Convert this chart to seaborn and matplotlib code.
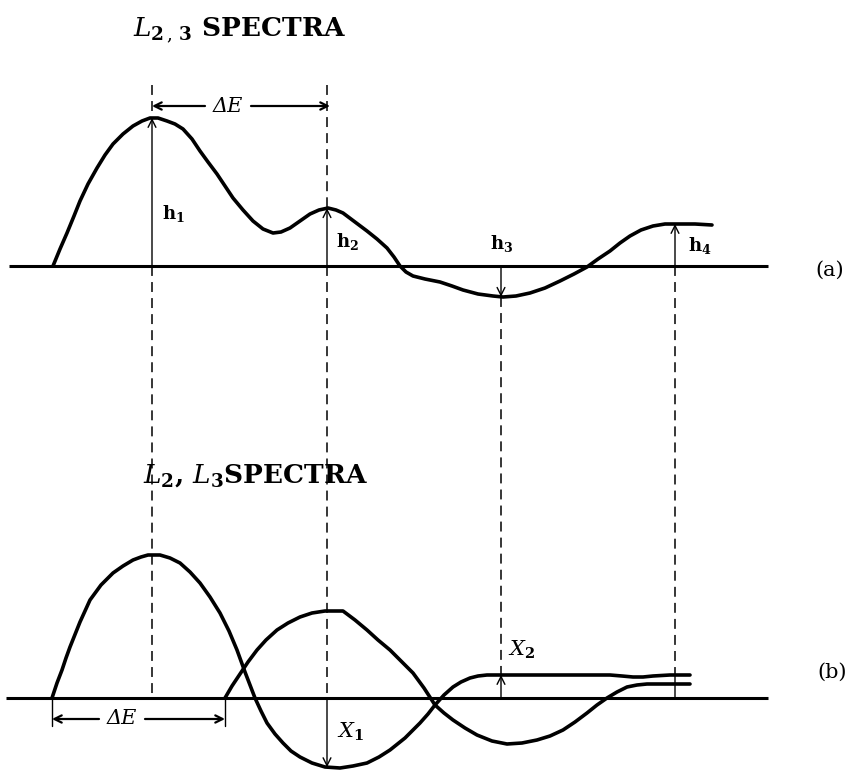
import numpy as np
import pandas as pd
import matplotlib
matplotlib.use("Agg")
import matplotlib.pyplot as plt
import seaborn as sns

sns.set_style("white")
plt.rcParams["font.family"] = ["DejaVu Serif"]
plt.rcParams["mathtext.fontset"] = "dejavuserif"
plt.rcParams["text.color"] = "black"

# ---- spectra (energy axis, signal above the zero line) ----
# (a) combined L2,3 spectrum
energy_a = [53, 60, 67, 74, 80, 88, 97, 105, 113, 123, 133, 142, 150, 158, 167,
            175, 183, 192, 200, 208, 217, 225, 233, 243, 253, 263, 273, 281,
            290, 300, 310, 319, 328, 336, 343, 355, 367, 377, 387, 394, 400,
            406, 413, 425, 440, 452, 463, 478, 493, 503, 516, 530, 545, 560,
            574, 587, 598, 610, 620, 630, 641, 653, 665, 677, 695, 712]
signal_a = [0, 17, 33, 50, 65, 82, 98, 111, 122, 132, 140, 145, 148, 148, 145,
            142, 137, 127, 115, 104, 92, 80, 68, 56, 45, 37, 33, 34,
            38, 45, 52, 56, 58, 56, 53, 44, 35, 27, 18, 9, 0,
            -6, -10, -13, -16, -20, -24, -28, -30, -31, -30, -27, -22, -15,
            -8, -1, 7, 15, 23, 30, 36, 40, 42, 42, 42, 41]

# (b) separate L2 and L3 components
energy_b1 = [52, 57, 62, 66, 70, 80, 90, 101, 113, 123, 133, 141, 148, 160,
             170, 180, 190, 200, 210, 220, 229, 237, 245, 250, 255, 261, 267,
             275, 283, 291, 300, 312, 325, 340, 353, 367, 379, 390, 405, 420,
             428, 435, 444, 453, 461, 470, 478, 487, 510, 560, 610, 622, 633,
             643, 653, 670, 690]
signal_b1 = [0, 15, 28, 40, 51, 76, 98, 113, 125, 132, 138, 141, 143, 143,
             140, 135, 126, 115, 101, 85, 67, 48, 26, 13, 0, -13, -25,
             -36, -45, -53, -59, -65, -69, -70, -68, -65, -59, -52, -40, -25,
             -16, -7, 3, 11, 16, 20, 22, 23, 23, 23, 23, 22, 21,
             21, 22, 23, 23]
energy_b2 = [225, 232, 240, 248, 257, 266, 277, 288, 300, 312, 325, 343, 355,
             367, 378, 390, 401, 413, 424, 435, 444, 453, 465, 477, 492, 507,
             522, 537, 550, 563, 575, 587, 597, 607, 617, 627, 637, 647, 670,
             690]
signal_b2 = [0, 12, 24, 36, 48, 58, 68, 75, 81, 85, 87, 87, 78,
             68, 58, 48, 37, 25, 10, -7, -15, -22, -30, -37, -43, -46,
             -45, -42, -38, -32, -24, -15, -7, 0, 6, 11, 13, 14, 14,
             14]

# energies where the heights are measured
marker_energy = [152, 327, 501, 675]
height_labels_a = [r"$\mathbf{h}_{\mathbf{1}}$", r"$\mathbf{h}_{\mathbf{2}}$",
                   r"$\mathbf{h}_{\mathbf{3}}$", r"$\mathbf{h}_{\mathbf{4}}$"]
height_labels_b = [r"$X_{\mathbf{1}}$", r"$X_{\mathbf{2}}$"]
title_a = r"$L_{\mathbf{2}\,,\,\mathbf{3}}$ SPECTRA"
title_b = r"$L_{\mathbf{2}}$, $L_{\mathbf{3}}$SPECTRA"
panel_tags = ["(a)", "(b)"]
delta_label = "ΔE"

# ---- layout (page coordinates, y downwards) ----
W, H = 846, 770
BASE_A, BASE_B = 266, 698
TOP_DASH = 85

fig = plt.figure(figsize=(W / 100, H / 100), dpi=100)
ax = fig.add_axes([0, 0, 1, 1])
ax.set_xlim(0, W)
ax.set_ylim(H, 0)
ax.axis("off")

INK = "black"
CURVE_LW = 2.6
AXIS_LW = 2.2
THIN_LW = 1.0
DASH_LW = 1.1
DASHES = (6.5, 4.0)


def draw_curve(energy, signal, base):
    df = pd.DataFrame({"E": energy, "y": base - np.asarray(signal, float)})
    sns.lineplot(data=df, x="E", y="y", ax=ax, color=INK, lw=CURVE_LW,
                 sort=False, estimator=None, solid_capstyle="round",
                 solid_joinstyle="round")


def arrow(x, y_from, y_to, head=True):
    ax.annotate("", xy=(x, y_to), xytext=(x, y_from),
                arrowprops=dict(arrowstyle="->" if head else "-", lw=THIN_LW,
                                color=INK, shrinkA=0, shrinkB=0,
                                mutation_scale=14))


def dashed(x, y0, y1):
    ax.plot([x, x], [y0, y1], color=INK, lw=DASH_LW, dashes=DASHES)


# zero lines
ax.plot([9, 768], [BASE_A, BASE_A], color=INK, lw=AXIS_LW, solid_capstyle="butt")
ax.plot([6, 768], [BASE_B, BASE_B], color=INK, lw=AXIS_LW, solid_capstyle="butt")

draw_curve(energy_a, signal_a, BASE_A)
draw_curve(energy_b1, signal_b1, BASE_B)
draw_curve(energy_b2, signal_b2, BASE_B)

# curve levels at the measuring energies
ya = [BASE_A - np.interp(e, energy_a, signal_a) for e in marker_energy]
yb1 = [BASE_B - np.interp(e, energy_b1, signal_b1) for e in marker_energy]

# h1, h2: peaks; dashed guides continue down into (b)
for i in (0, 1):
    e = marker_energy[i]
    dashed(e, TOP_DASH, ya[i])
    arrow(e, BASE_A, ya[i])
    dashed(e, BASE_A, BASE_B)
# X1: depth of the L2 minimum
arrow(marker_energy[1], BASE_B, yb1[1])
# h3: dip below zero, X2: step of the L2 tail
arrow(marker_energy[2], BASE_A, ya[2])
dashed(marker_energy[2], ya[2], yb1[2])
arrow(marker_energy[2], BASE_B, yb1[2])
# h4: tail level
arrow(marker_energy[3], BASE_A, ya[3])
dashed(marker_energy[3], BASE_A, yb1[3])
arrow(marker_energy[3], yb1[3], BASE_B, head=False)

# height labels
label_pos_a = [(173, 213), (347, 242), (502, 243), (700, 245)]
for (x, y), t in zip(label_pos_a, height_labels_a):
    ax.text(x, y, t, fontsize=13, ha="center", va="center")
label_pos_b = [(350, 732), (522, 650)]
for (x, y), t in zip(label_pos_b, height_labels_b):
    ax.text(x, y, t, fontsize=15, ha="center", va="center")


# ΔE spacing arrows
def delta_arrow(x0, x1, y, xt):
    for end, start in ((x0, xt - 23), (x1, xt + 23)):
        ax.annotate("", xy=(end, y), xytext=(start, y),
                    arrowprops=dict(arrowstyle="->", lw=1.6, color=INK,
                                    shrinkA=0, shrinkB=0, mutation_scale=13))
    ax.text(xt, y, delta_label, fontsize=15, style="italic",
            ha="center", va="center")


delta_arrow(marker_energy[0], 330, 106, 228)
delta_arrow(energy_b1[0], energy_b2[0], 719, 122)
for e in (energy_b1[0], energy_b2[0]):
    ax.plot([e, e], [BASE_B, 726], color=INK, lw=THIN_LW)

# titles and panel tags
ax.text(133, 36, title_a, fontsize=19, fontweight="bold", ha="left",
        va="baseline")
ax.text(143, 483, title_b, fontsize=19, fontweight="bold", ha="left",
        va="baseline")
ax.text(830, 270, panel_tags[0], fontsize=15, ha="center", va="center")
ax.text(832, 672, panel_tags[1], fontsize=15, ha="center", va="center")

fig.savefig("out.png", dpi=100, facecolor="white")
